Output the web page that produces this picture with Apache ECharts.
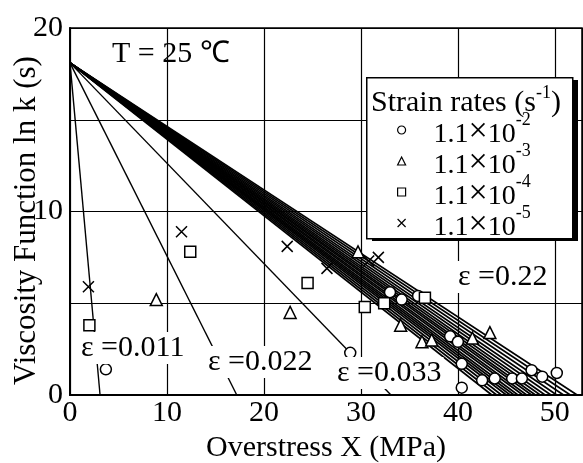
<!DOCTYPE html>
<html>
<head>
<meta charset="utf-8">
<script src="https://cdn.jsdelivr.net/npm/echarts@6/dist/echarts.min.js"></script>
<style>
    html, body { margin: 0; padding: 0; background: #fff; }
    #chart { width: 583px; height: 463px; }
</style>
</head>
<body>
<div id="chart"></div>
<script>
// ln k at X = 0, shared by all fitted lines
var lineStart = 18.1;
// X where each fitted line reaches ln k = 0 (first three: eps 0.011, 0.022, 0.033, then the bundle up to 0.22)
var lineEnds = [3.1, 17.2, 33.1, 43.5, 44.0, 44.5, 45.0, 45.4, 45.8, 46.2, 46.7, 47.1, 47.6,
    48.0, 48.5, 49.0, 49.6, 50.2, 50.9, 51.6, 52.3];

var rateNames = ['1.1×10-2', '1.1×10-3', '1.1×10-4', '1.1×10-5'];
var rateExps = ['-2', '-3', '-4', '-5'];

var rate2 = [[3.7, 1.4], [28.9, 2.3], [33.0, 5.6], [34.2, 5.2], [35.9, 5.4], [39.2, 3.2], [40.0, 2.9],
    [40.4, 1.7], [40.4, 0.4], [42.5, 0.8], [43.8, 0.9], [45.6, 0.9], [46.6, 0.9], [47.6, 1.35],
    [48.7, 1.0], [50.2, 1.2]];
var rate3 = [[8.9, 5.2], [22.7, 4.5], [29.7, 7.8], [34.1, 3.8], [36.3, 2.9], [37.3, 3.0], [41.5, 3.1], [43.3, 3.4]];
var rate4 = [[2.0, 3.8], [12.4, 7.8], [24.5, 6.1], [30.4, 4.8], [32.4, 5.0], [36.6, 5.3]];
var rate5 = [[1.9, 5.9], [11.5, 8.9], [22.4, 8.1], [26.5, 6.9], [30.8, 7.3], [31.8, 7.5]];

var rateData = [rate2, rate3, rate4, rate5];
var rateSymbols = ['circle', 'triangle', 'rect', 'path://M0,0L10,10M10,0L0,10'];
var rateSizes = [11, 12, 11, 11];

var font = '"Liberation Serif", "Times New Roman", serif';

var series = [];
lineEnds.forEach(function (end, i) {
    series.push({
        type: 'line',
        data: [[0, lineStart], [end, 0]],
        symbol: 'none',
        silent: true,
        z: 2,
        lineStyle: { color: '#000', width: i < 3 ? 1.4 : 1.7 }
    });
});
rateData.forEach(function (pts, i) {
    series.push({
        type: 'scatter',
        name: rateNames[i],
        data: pts,
        symbol: rateSymbols[i],
        symbolSize: rateSizes[i],
        z: 3,
        itemStyle: {
            color: i === 3 ? 'transparent' : '#fff',
            borderColor: '#000',
            borderWidth: 1.5,
            opacity: 1
        }
    });
});

var epsLabel = function (text, left, top) {
    return {
        type: 'text', left: left, top: top, z: 10,
        style: { text: text, font: '30px ' + font, fill: '#000', backgroundColor: '#fff', padding: [1, 2] }
    };
};

var chart = echarts.init(document.getElementById('chart'));
chart.setOption({
    animation: false,
    backgroundColor: '#fff',
    grid: {
        left: 70, top: 28, width: 512, height: 367,
        outerBoundsMode: 'none', containLabel: false,
        show: true, borderColor: '#000', borderWidth: 1.5, backgroundColor: 'transparent'
    },
    xAxis: {
        type: 'value', min: 0, max: 52.8, interval: 10,
        name: 'Overstress X (MPa)', nameLocation: 'middle', nameGap: 37,
        nameTextStyle: { fontFamily: font, fontSize: 30, color: '#000' },
        axisLine: { show: true, lineStyle: { color: '#000', width: 2 } },
        axisTick: { show: false },
        splitLine: { show: true, lineStyle: { color: '#000', width: 1.2 } },
        axisLabel: {
            fontFamily: font, fontSize: 30, color: '#000', margin: 3, showMaxLabel: false,
            formatter: function (v) { return v % 10 === 0 ? v : ''; }
        }
    },
    yAxis: {
        type: 'value', min: 0, max: 20, interval: 5,
        name: 'Viscosity Function ln k (s)', nameLocation: 'middle', nameGap: 28, nameMoveOverlap: false,
        nameTextStyle: { fontFamily: font, fontSize: 31, color: '#000', padding: [0, 18, 0, 0] },
        axisLine: { show: true, lineStyle: { color: '#000', width: 2 } },
        axisTick: { show: false },
        splitLine: { show: true, lineStyle: { color: '#000', width: 1.2 } },
        axisLabel: {
            fontFamily: font, fontSize: 30, color: '#000', margin: 7,
            formatter: function (v) { return v % 10 === 0 ? v : ''; }
        }
    },
    legend: {
        orient: 'vertical', left: 397, top: 111, itemGap: -7, padding: 0,
        itemWidth: 8, itemHeight: 8, z: 20,
        data: rateNames,
        itemStyle: { borderWidth: 1.2 },
        formatter: function (name) {
            return '{b|1.1}{x|×}{b|10}{s|' + rateExps[rateNames.indexOf(name)] + '}';
        },
        textStyle: {
            color: '#000',
            rich: {
                b: { fontFamily: font, fontSize: 28, lineHeight: 28, verticalAlign: 'bottom', color: '#000' },
                x: { fontFamily: font, fontSize: 34, lineHeight: 28, verticalAlign: 'bottom', color: '#000' },
                s: { fontFamily: font, fontSize: 18, verticalAlign: 'top', padding: [0, 0, 20, 0], color: '#000' }
            },
            padding: [0, 0, 0, 23]
        }
    },
    graphic: [
        { type: 'text', left: 112, top: 39, z: 10, style: { text: 'T = 25 ℃', font: '30px ' + font, fill: '#000' } },
        // labels sit on a white ground, hiding the line ends below them
        epsLabel('ε =0.011', 79, 332),
        epsLabel('ε =0.022', 206, 346),
        epsLabel('ε =0.033', 335, 357),
        epsLabel('ε =0.22', 456, 261),
        // legend frame with its drop shadow
        { type: 'rect', left: 372, top: 80, z: 11, shape: { width: 206, height: 161 }, style: { fill: '#000' } },
        { type: 'rect', left: 366, top: 77, z: 12, shape: { width: 206, height: 161 }, style: { fill: '#fff', stroke: '#000', lineWidth: 1.5 } },
        {
            type: 'text', left: 371, top: 84, z: 13,
            style: {
                text: '{a|Strain rates (s}{s|-1}{a|)}',
                fill: '#000',
                rich: {
                    a: { fontFamily: font, fontSize: 30, lineHeight: 30, verticalAlign: 'bottom' },
                    s: { fontFamily: font, fontSize: 18, verticalAlign: 'top', padding: [0, 0, 16, 0] }
                }
            }
        }
    ],
    series: series
});
</script>
</body>
</html>
